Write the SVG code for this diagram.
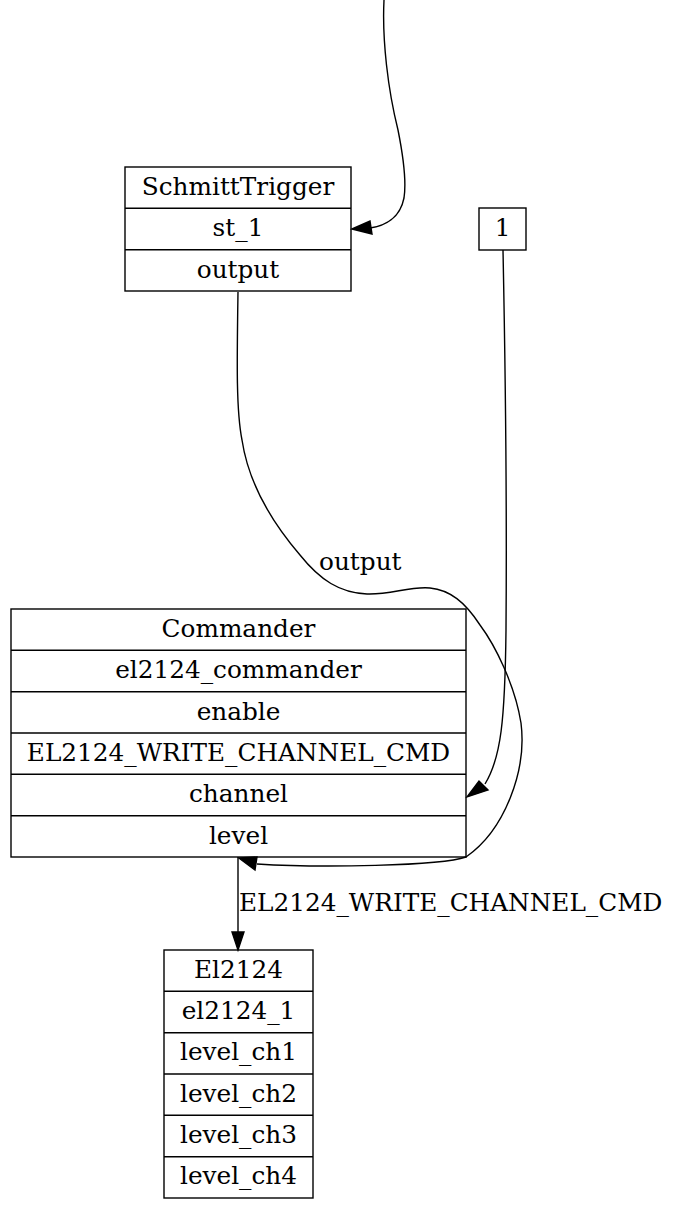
<svg xmlns="http://www.w3.org/2000/svg" width="683" height="1213" viewBox="0 0 683 1213">
<style>
.box{fill:none;stroke:#000;stroke-width:1.4}
.t{font-family:"DejaVu Serif","Liberation Serif",serif;font-size:24.75px;fill:#000;text-anchor:middle}
.lbl{font-family:"DejaVu Serif","Liberation Serif",serif;font-size:24.75px;fill:#000}
.e{fill:none;stroke:#000;stroke-width:1.4}
.ah{fill:#000;stroke:#000;stroke-width:1.4}
</style>
<rect width="683" height="1213" fill="#fff"/>
<g id="connectors">
<path class="e" d="M384,0 C382,40 388,90 398,130 C404,160 406,185 404,198 C400,218 385,226 370,228"/>
<polygon class="ah" points="352,229 370,221 372,234"/>
<path class="e" d="M503,250 C505,350 507,500 506,630 C505,720 501,758 485,784"/>
<polygon class="ah" points="467,797 479,781 488,790"/>
<path class="e" d="M238,292 C237,360 236,410 242,440 C248,480 270,520 300,555 C320,580 340,593 367,594 C390,595 410,586 430,588 C450,590 465,602 480,625 C495,645 515,685 521,723 C527,770 505,830 466,857 C440,866 320,868 257,864"/>
<polygon class="ah" points="239,858 257,857 255,870"/>
<path class="e" d="M238,857 L238,932"/>
<polygon class="ah" points="238,950 232,932 244,932"/>
<text class="lbl" x="319" y="570">output</text>
<text class="lbl" x="239" y="911">EL2124_WRITE_CHANNEL_CMD</text>
</g>
<g id="SchmittTrigger">
<rect class="box" x="125" y="167" width="226" height="124"/>
<line class="box" x1="125" y1="208.3" x2="351" y2="208.3"/>
<line class="box" x1="125" y1="249.7" x2="351" y2="249.7"/>
<text class="t" x="238" y="195">SchmittTrigger</text>
<text class="t" x="238" y="236.3">st_1</text>
<text class="t" x="238" y="277.7">output</text>
</g>
<g id="const1">
<rect class="box" x="479" y="208" width="47" height="42"/>
<text class="t" x="502.5" y="236">1</text>
</g>
<g id="Commander">
<rect class="box" x="11" y="609" width="455" height="248"/>
<line class="box" x1="11" y1="650.3" x2="466" y2="650.3"/>
<line class="box" x1="11" y1="691.7" x2="466" y2="691.7"/>
<line class="box" x1="11" y1="733" x2="466" y2="733"/>
<line class="box" x1="11" y1="774.3" x2="466" y2="774.3"/>
<line class="box" x1="11" y1="815.7" x2="466" y2="815.7"/>
<text class="t" x="238.5" y="637">Commander</text>
<text class="t" x="238.5" y="678.3">el2124_commander</text>
<text class="t" x="238.5" y="719.7">enable</text>
<text class="t" x="238.5" y="761">EL2124_WRITE_CHANNEL_CMD</text>
<text class="t" x="238.5" y="802.3">channel</text>
<text class="t" x="238.5" y="843.7">level</text>
</g>
<g id="El2124">
<rect class="box" x="164" y="950" width="149" height="248"/>
<line class="box" x1="164" y1="991.3" x2="313" y2="991.3"/>
<line class="box" x1="164" y1="1032.7" x2="313" y2="1032.7"/>
<line class="box" x1="164" y1="1074" x2="313" y2="1074"/>
<line class="box" x1="164" y1="1115.3" x2="313" y2="1115.3"/>
<line class="box" x1="164" y1="1156.7" x2="313" y2="1156.7"/>
<text class="t" x="238.5" y="977.5">El2124</text>
<text class="t" x="238.5" y="1018.8">el2124_1</text>
<text class="t" x="238.5" y="1060.2">level_ch1</text>
<text class="t" x="238.5" y="1101.5">level_ch2</text>
<text class="t" x="238.5" y="1142.8">level_ch3</text>
<text class="t" x="238.5" y="1184.2">level_ch4</text>
</g>
</svg>
